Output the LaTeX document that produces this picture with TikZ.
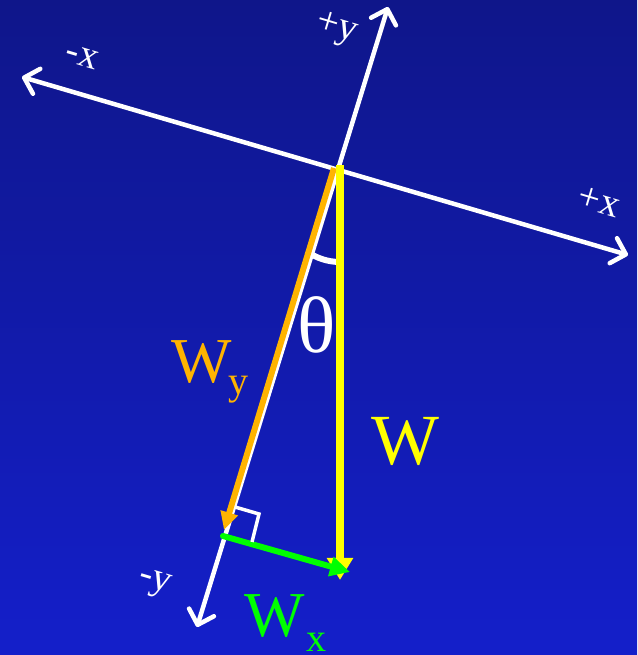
\documentclass[tikz,border=0pt]{standalone}
\usepackage{fontspec}
\setmainfont{Liberation Serif}
\usetikzlibrary{arrows.meta,calc}
\definecolor{bgtop}{RGB}{15,22,138}
\definecolor{bgbot}{RGB}{20,31,202}
\definecolor{wyorange}{RGB}{255,180,0}
\definecolor{wyellow}{RGB}{255,255,0}
\definecolor{wgreen}{RGB}{0,255,0}
\tikzset{
  axis/.style={draw=white, line width=4.5pt, line cap=round,
    {Straight Barb[length=13pt,width=26pt,line cap=round,line join=round]}-{Straight Barb[length=13pt,width=26pt,line cap=round,line join=round]}},
  axlabel/.style={text=white, font=\fontsize{39}{42}\selectfont, rotate=-16.7, inner sep=0pt},
  bigW/.style={font=\fontsize{72}{80}\selectfont, inner sep=0pt, anchor=base},
  subl/.style={font=\fontsize{40}{44}\selectfont, inner sep=0pt, anchor=base},
}
\begin{document}
\begin{tikzpicture}[x=1pt,y=1pt]
\useasboundingbox (0,0) rectangle (637,655);
\shade[top color=bgtop, bottom color=bgbot] (0,0) rectangle (637,655);
% coordinates
\coordinate (xneg) at (22,578);
\coordinate (xpos) at (628,400);
\coordinate (yneg) at (197,28);
\coordinate (ypos) at (388,648);
\coordinate (O) at (338,486);
\coordinate (Ws) at (340,490);
\coordinate (Wt) at (340,75);
\coordinate (Wys) at (334,487);
\coordinate (Wyt) at (224,125);
\coordinate (F) at (223,119);
\coordinate (Wxt) at (350,83);
\coordinate (Q1) at (235,148);
\coordinate (Q2) at (259,141);
\coordinate (Q3) at (252,113);
\coordinate (A0) at (340,393);
% axes
\draw[axis] (xneg) -- (xpos);
\draw[axis] (yneg) -- (ypos);
% angle arc
\draw[white, line width=6pt] (A0) arc[start angle=270, end angle=234, radius=57];
% vectors
\draw[wyorange, line width=6pt, -{Triangle[length=18pt,width=17pt]}] (Wys) -- (Wyt);
\draw[wyellow, line width=8pt, -{Triangle[length=22pt,width=25pt]}] (Ws) -- (Wt);
\draw[wgreen, line width=6pt, line cap=round, -{Triangle[length=20pt,width=19pt]}] (F) -- (Wxt);
% right angle
\draw[white, line width=3.5pt, line join=miter] (Q1) -- (Q2) -- (Q3);
% axis labels
\node[axlabel] (lpy) at (336,625) {+y};
\node[axlabel] (lmx) at (82,598) {-x};
\node[axlabel] (lpx) at (599,453) {+x};
\node[axlabel] (lmy) at (154,71) {-y};
% labels
\node[text=white, font=\fontsize{80}{88}\selectfont, inner sep=0pt] (th) at (317,330) {θ};
\node[bigW, text=wyellow] (lW) at (405,190) {W};
\node[bigW, text=wyorange, font=\fontsize{64}{70}\selectfont] (lWy) at (202,272) {W};
\node[subl, text=wyorange] (lWys) at (238,260) {y};
\node[bigW, text=wgreen, font=\fontsize{64}{70}\selectfont] (lWx) at (275,18) {W};
\node[subl, text=wgreen] (lWxs) at (316,3) {x};
\end{tikzpicture}
\end{document}
